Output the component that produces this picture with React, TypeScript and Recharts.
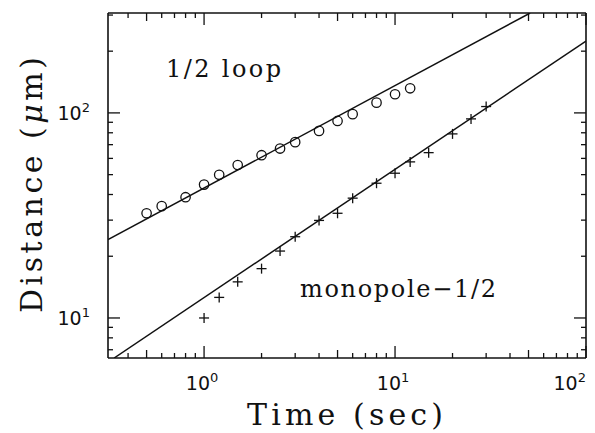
import React from 'react';
import { ComposedChart, XAxis, YAxis, Scatter, Line, Customized } from 'recharts';

// 1/2 loop (circles)
const loopTime = [0.5, 0.6, 0.8, 1, 1.2, 1.5, 2, 2.5, 3, 4, 5, 6, 8, 10, 12];
const loopDist = [32.4, 35.1, 38.8, 44.7, 49.9, 55.7, 62.2, 67.0, 72.0, 81.7, 91.4, 98.6, 112.2, 123.3, 131.8];
// monopole-1/2 (crosses)
const monoTime = [1, 1.2, 1.5, 2, 2.5, 3, 4, 5, 6, 8, 10, 12, 15, 20, 25, 30];
const monoDist = [10.0, 12.6, 15.0, 17.4, 21.2, 24.9, 29.9, 32.4, 38.4, 45.4, 50.8, 57.7, 64.0, 79.0, 93.5, 107.4];
// fit lines (endpoints)
const loopFitTime = [0.314, 51.0];
const loopFitDist = [24.1, 307];
const monoFitTime = [0.338, 100];
const monoFitDist = [6.38, 224];

const xDomain = [0.314, 100];
const yDomain = [6.38, 307];
const xTicks = [0.4, 0.5, 0.6, 0.7, 0.8, 0.9, 1, 2, 3, 4, 5, 6, 7, 8, 9, 10, 20, 30, 40, 50, 60, 70, 80, 90, 100];
const xMajor = [1, 10, 100];
const yTicks = [7, 8, 9, 10, 20, 30, 40, 50, 60, 70, 80, 90, 100, 200, 300];
const yMajor = [10, 100];

const zip = (xs: number[], ys: number[]) => xs.map((x, i) => ({ x, y: ys[i] }));
const loopData = zip(loopTime, loopDist);
const monoData = zip(monoTime, monoDist);
const loopFit = zip(loopFitTime, loopFitDist);
const monoFit = zip(monoFitTime, monoFitDist);

const INK = '#111';
const SERIF = '"DejaVu Serif", serif';
const SANS = '"DejaVu Sans", sans-serif';

const mant = (v: number) => v / Math.pow(10, Math.floor(Math.log10(v) + 1e-9));
const isFive = (v: number) => Math.abs(mant(v) - 5) < 1e-6;
const expOf = (v: number) => Math.round(Math.log10(v));

const tickLen = (v: number, majors: number[]) => (majors.includes(v) ? 12 : isFive(v) ? 8 : 5);

const BottomTick = (props: any) => {
  const { x, y, payload } = props;
  const v = payload.value;
  const major = xMajor.includes(v);
  const atEnd = v === xDomain[1];
  return (
    <g>
      <line x1={x} y1={y} x2={x} y2={y - tickLen(v, xMajor)} stroke={INK} strokeWidth={1.3} />
      {major && (
        <text x={atEnd ? x : x - 2} y={y + 32} textAnchor={atEnd ? 'end' : 'middle'} fontFamily={SANS} fontSize={19} fill={INK}>
          10<tspan dy={-8} fontSize={13}>{expOf(v)}</tspan>
        </text>
      )}
    </g>
  );
};

const TopTick = (props: any) => {
  const { x, y, payload } = props;
  const v = payload.value;
  return <line x1={x} y1={y} x2={x} y2={y + tickLen(v, xMajor)} stroke={INK} strokeWidth={1.3} />;
};

const LeftTick = (props: any) => {
  const { x, y, payload } = props;
  const v = payload.value;
  const major = yMajor.includes(v);
  return (
    <g>
      <line x1={x} y1={y} x2={x + (major ? 12 : 5)} y2={y} stroke={INK} strokeWidth={1.3} />
      {major && (
        <text x={x - 18} y={y + 7} textAnchor="end" fontFamily={SANS} fontSize={19} fill={INK}>
          10<tspan dy={-8} fontSize={13}>{expOf(v)}</tspan>
        </text>
      )}
    </g>
  );
};

const RightTick = (props: any) => {
  const { x, y, payload } = props;
  const v = payload.value;
  const major = yMajor.includes(v);
  return <line x1={x} y1={y} x2={x - (major ? 12 : 5)} y2={y} stroke={INK} strokeWidth={1.3} />;
};

const CircleShape = (props: any) => (
  <circle cx={props.cx} cy={props.cy} r={4.7} fill="none" stroke={INK} strokeWidth={1.3} />
);
const CrossShape = (props: any) => (
  <g stroke={INK} strokeWidth={1.3}>
    <line x1={props.cx - 5} y1={props.cy} x2={props.cx + 5} y2={props.cy} />
    <line x1={props.cx} y1={props.cy - 5} x2={props.cx} y2={props.cy + 5} />
  </g>
);

const Texts = () => (
  <g fill={INK}>
    <text x={247} y={425} fontFamily={SERIF} fontSize={30} textLength={196} lengthAdjust="spacing">
      Time (sec)
    </text>
    <text transform="rotate(-90)" x={-313} y={42} fontFamily={SERIF} fontSize={30} textLength={256} lengthAdjust="spacing">
      Distance (<tspan fontStyle="italic">μ</tspan>m)
    </text>
    <text x={166} y={77} fontFamily={SERIF} fontSize={24} textLength={115} lengthAdjust="spacing">
      1/2 loop
    </text>
    <text x={300} y={297} fontFamily={SERIF} fontSize={24} textLength={196} lengthAdjust="spacing">
      monopole−1/2
    </text>
  </g>
);

export default function App() {
  return (
    <div style={{ position: 'absolute', left: 0, top: 0, background: '#fff' }}>
      <ComposedChart width={595} height={433} margin={{ top: 12, right: 8, left: 0, bottom: 0 }}>
        <XAxis
          xAxisId="b"
          dataKey="x"
          type="number"
          scale="log"
          domain={xDomain}
          allowDataOverflow
          ticks={xTicks}
          interval={0}
          height={75}
          orientation="bottom"
          tickLine={false}
          tickSize={0}
          tickMargin={0}
          tick={<BottomTick />}
          axisLine={{ stroke: INK, strokeWidth: 1.6 }}
        />
        <XAxis
          xAxisId="t"
          dataKey="x"
          type="number"
          scale="log"
          domain={xDomain}
          allowDataOverflow
          ticks={xTicks}
          interval={0}
          height={1}
          orientation="top"
          tickLine={false}
          tickSize={0}
          tickMargin={0}
          tick={<TopTick />}
          axisLine={{ stroke: INK, strokeWidth: 1.6 }}
        />
        <YAxis
          yAxisId="l"
          dataKey="y"
          type="number"
          scale="log"
          domain={yDomain}
          allowDataOverflow
          ticks={yTicks}
          interval={0}
          width={108}
          orientation="left"
          tickLine={false}
          tickSize={0}
          tickMargin={0}
          tick={<LeftTick />}
          axisLine={{ stroke: INK, strokeWidth: 1.6 }}
        />
        <YAxis
          yAxisId="r"
          dataKey="y"
          type="number"
          scale="log"
          domain={yDomain}
          allowDataOverflow
          ticks={yTicks}
          interval={0}
          width={1}
          orientation="right"
          tickLine={false}
          tickSize={0}
          tickMargin={0}
          tick={<RightTick />}
          axisLine={{ stroke: INK, strokeWidth: 1.6 }}
        />
        <Line data={loopFit} dataKey="y" xAxisId="b" yAxisId="l" type="linear" stroke={INK} strokeWidth={1.5} dot={false} isAnimationActive={false} />
        <Line data={monoFit} dataKey="y" xAxisId="b" yAxisId="l" type="linear" stroke={INK} strokeWidth={1.5} dot={false} isAnimationActive={false} />
        <Scatter data={loopData} xAxisId="b" yAxisId="l" shape={<CircleShape />} isAnimationActive={false} />
        <Scatter data={monoData} xAxisId="b" yAxisId="l" shape={<CrossShape />} isAnimationActive={false} />
        <Customized component={<Texts />} />
      </ComposedChart>
    </div>
  );
}
